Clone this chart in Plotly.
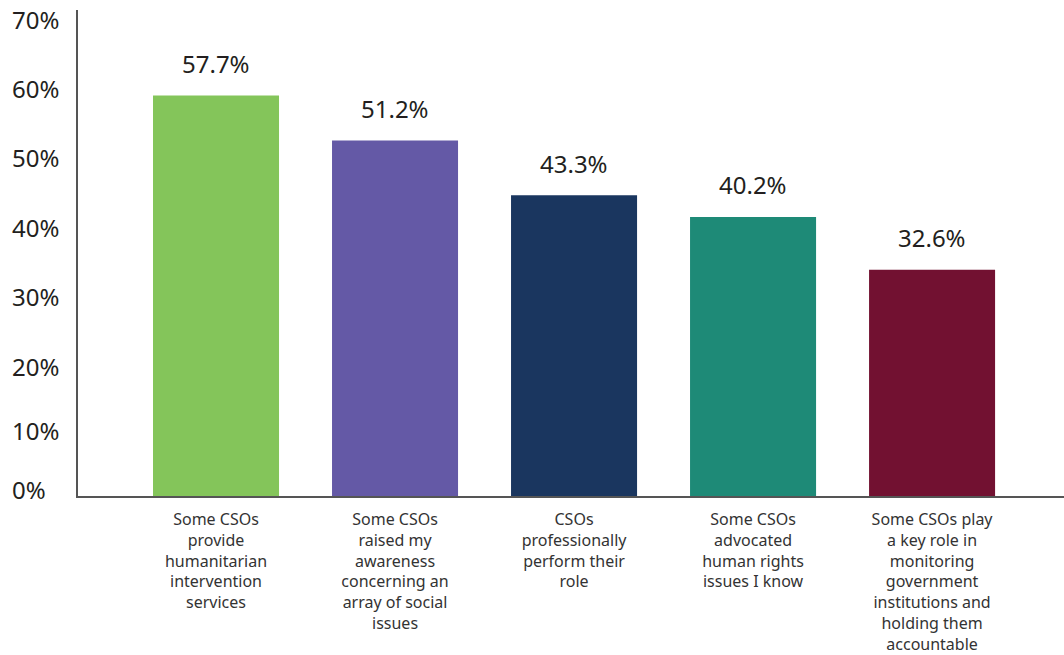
import plotly.graph_objects as go

categories = [
    "Some CSOs<br>provide<br>humanitarian<br>intervention<br>services",
    "Some CSOs<br>raised my<br>awareness<br>concerning an<br>array of social<br>issues",
    "CSOs<br>professionally<br>perform their<br>role",
    "Some CSOs<br>advocated<br>human rights<br>issues I know",
    "Some CSOs play<br>a key role in<br>monitoring<br>government<br>institutions and<br>holding them<br>accountable",
]
values = [57.7, 51.2, 43.3, 40.2, 32.6]
colors = ["#84C55A", "#6459A6", "#1A365F", "#1E8A77", "#721131"]
tick_values = [0, 10, 20, 30, 40, 50, 60, 70]
tick_labels = ["0%", "10%", "20%", "30%", "40%", "50%", "60%", "70%"]

fig = go.Figure(
    go.Bar(
        x=categories,
        y=values,
        marker=dict(color=colors, line=dict(width=0)),
        width=0.704,
        hoverinfo="skip",
    )
)

# value labels above each bar
for cat, v in zip(categories, values):
    fig.add_annotation(
        x=cat, y=v, text=f"{v:.1f}%", showarrow=False,
        yanchor="middle", yshift=32,
        font=dict(family="Noto Sans", size=24, color="#231f20"),
    )

# left-aligned y tick labels; the lowest ones sit a little higher
label_nudge = {0: 7, 10: -4}
for tv, tl in zip(tick_values, tick_labels):
    fig.add_annotation(
        xref="paper", x=0, xshift=-68, xanchor="left",
        y=tv, yshift=label_nudge.get(tv, -9), yanchor="middle",
        text=tl, showarrow=False,
        font=dict(family="Noto Sans", size=24, color="#231f20"),
    )

fig.update_layout(
    width=1064, height=655,
    margin=dict(l=78, r=0, t=10, b=159),
    plot_bgcolor="white", paper_bgcolor="white",
    showlegend=False,
    bargap=0.3,
)
fig.update_xaxes(
    range=[-0.771, 4.737],
    automargin=False,
    showline=True, linecolor="#555555", linewidth=1.5,
    ticks="", showgrid=False,
    tickfont=dict(family="Noto Sans", size=16, color="#333333"),
    ticklabelstandoff=8,
)
fig.update_yaxes(
    range=[0, 70],
    automargin=False,
    showticklabels=False,
    showline=True, linecolor="#555555", linewidth=1.5,
    ticks="", showgrid=False, zeroline=False,
)

fig.write_html("out.html")
